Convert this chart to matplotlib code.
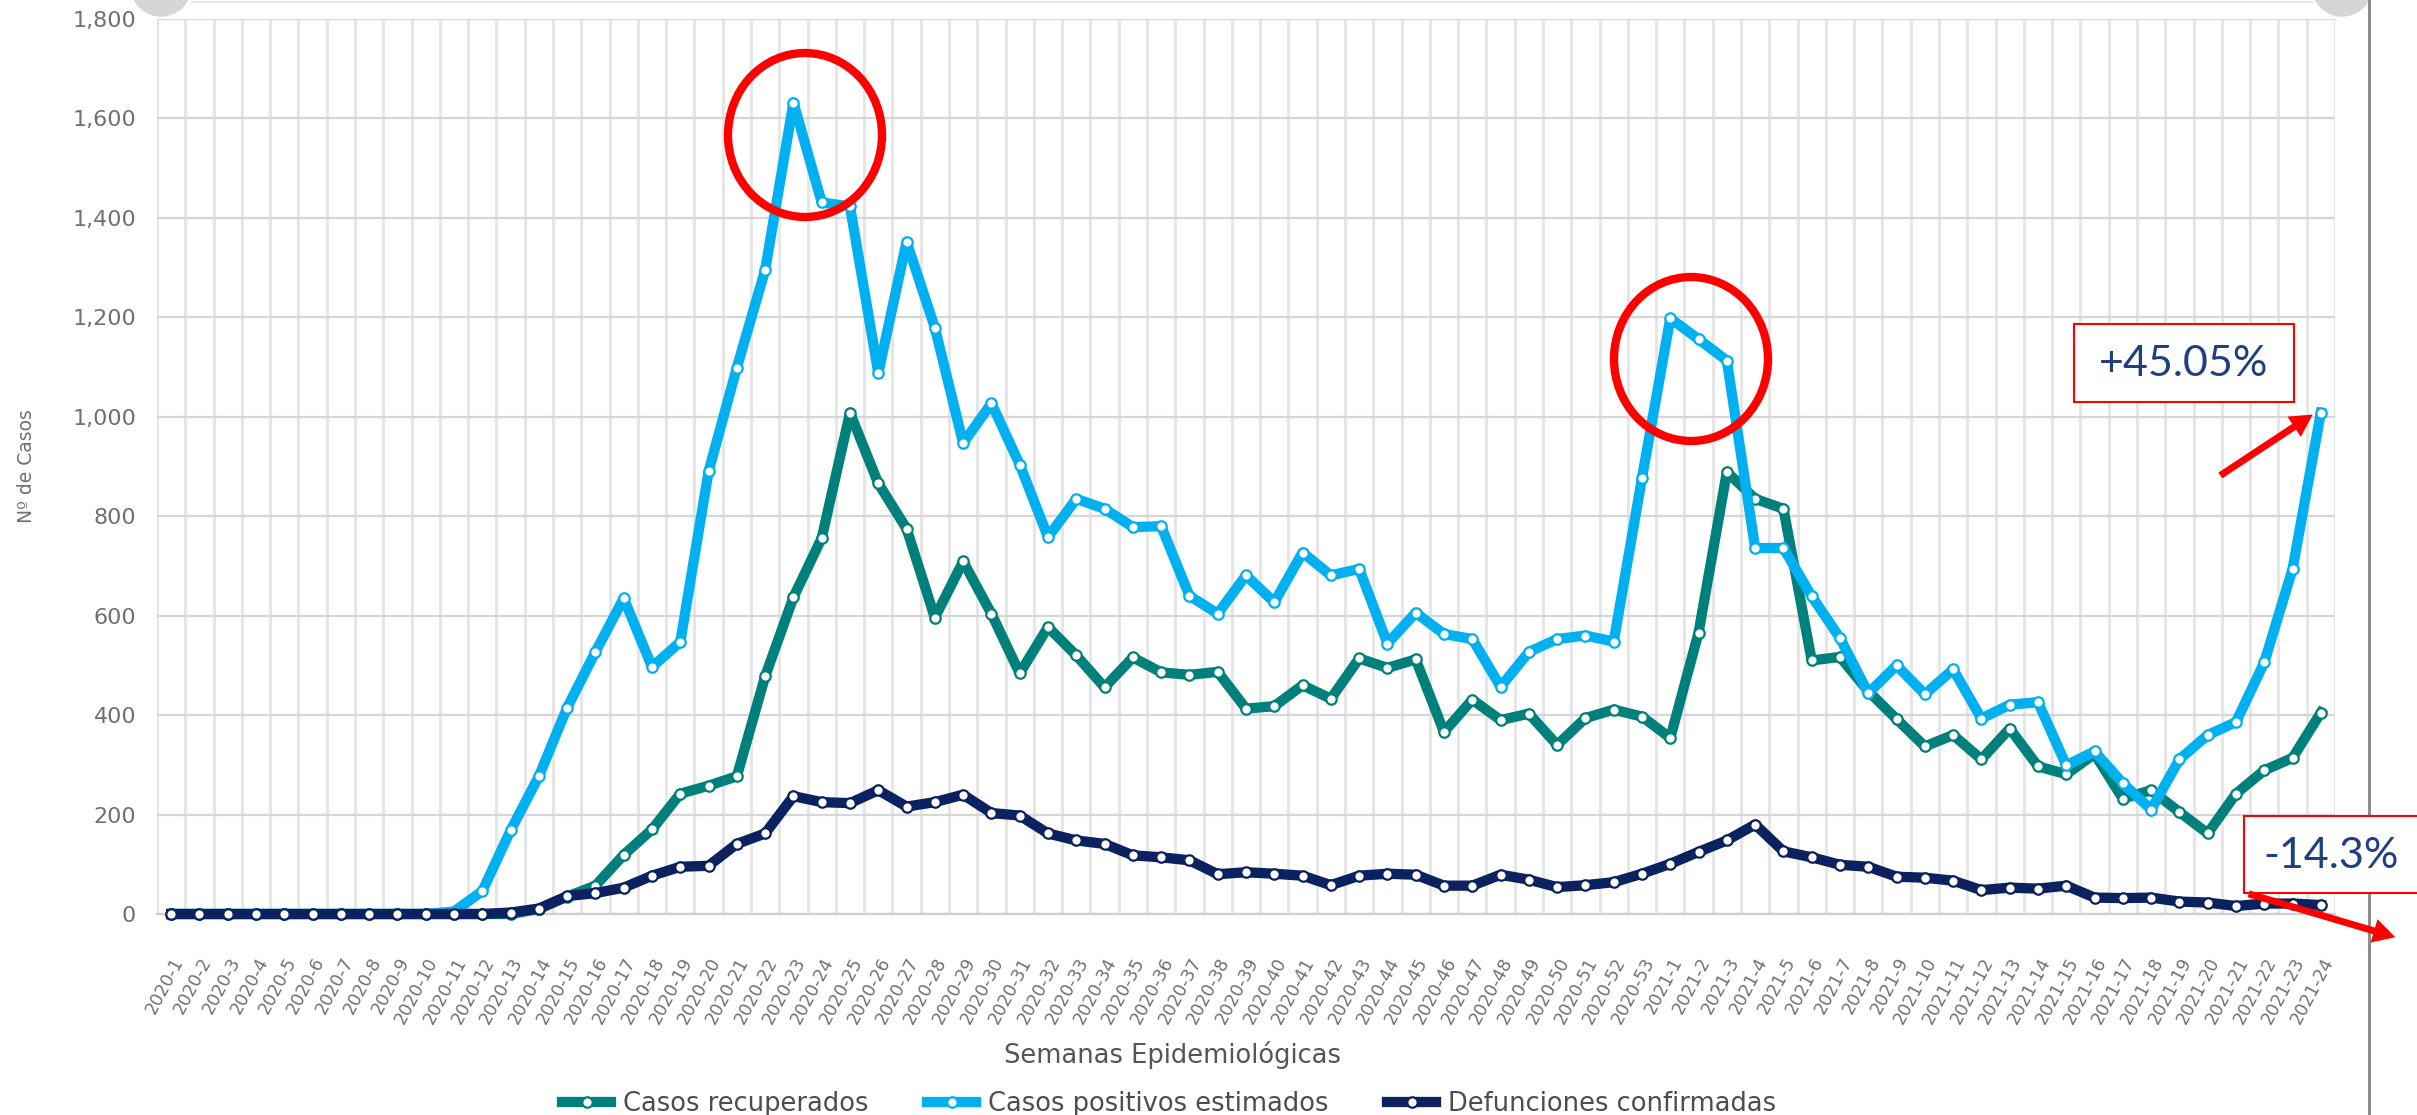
import numpy as np
import matplotlib
matplotlib.use("Agg")
import matplotlib.pyplot as plt
import matplotlib.transforms as mtransforms
from matplotlib.patches import Ellipse, Rectangle, FancyArrowPatch, Circle
from matplotlib.ticker import FuncFormatter, FixedLocator

# ---------------- data ----------------
weeks = [f"2020-{i}" for i in range(1, 54)] + [f"2021-{i}" for i in range(1, 25)]

positivos = [0, 0, 0, 0, 0, 0, 0, 0, 0, 0,
             5, 46, 168, 277, 415, 527, 635, 497, 547, 890,
             1099, 1295, 1632, 1431, 1423, 1088, 1352, 1179, 947, 1027,
             904, 758, 835, 815, 778, 780, 640, 604, 681, 627,
             727, 681, 694, 544, 606, 563, 553, 457, 527, 553,
             560, 548, 877, 1198, 1156, 1113, 736, 736, 639, 555,
             444, 500, 442, 492, 393, 421, 426, 299, 327, 263,
             210, 311, 360, 386, 506, 694, 1008]

recuperados = [0, 0, 0, 0, 0, 0, 0, 0, 0, 0,
               0, 0, 0, 10, 35, 57, 119, 170, 242, 258,
               277, 478, 637, 756, 1008, 866, 775, 596, 709, 604,
               484, 577, 520, 456, 516, 486, 481, 487, 413, 418,
               460, 433, 514, 495, 512, 366, 431, 390, 403, 340,
               394, 411, 397, 354, 566, 889, 835, 815, 510, 517,
               448, 392, 337, 360, 311, 373, 297, 281, 322, 232,
               249, 205, 162, 242, 289, 314, 405]

defunciones = [0, 0, 0, 0, 0, 0, 0, 0, 0, 0,
               0, 0, 3, 11, 36, 42, 53, 77, 95, 97,
               141, 162, 237, 225, 223, 249, 216, 225, 240, 203,
               198, 162, 148, 141, 118, 114, 108, 80, 84, 81,
               77, 58, 77, 81, 79, 57, 57, 79, 69, 54,
               58, 64, 81, 101, 125, 148, 180, 126, 114, 99,
               95, 75, 73, 67, 48, 53, 51, 57, 33, 32,
               33, 25, 23, 16, 21, 21, 18]

series_names = ["Casos recuperados", "Casos positivos estimados", "Defunciones confirmadas"]
y_ticks = list(range(0, 1801, 200))
ann_up = "+45.05%"
ann_down = "-14.3%"

# ---------------- styling ----------------
C_TEAL = "#00807A"
C_BLUE = "#00B0F0"
C_NAVY = "#0B2160"
C_GRAY_TXT = "#707070"
C_ANN = "#1F3F80"

W, H = 2417, 1115
plt.rcParams["font.family"] = ["DejaVu Sans"]
fig = plt.figure(figsize=(W / 100, H / 100), dpi=100)
fig.patch.set_facecolor("white")
# pixel coordinates, origin top-left
px = mtransforms.Affine2D().scale(1 / W, -1 / H).translate(0, 1) + fig.transFigure

ax = fig.add_axes([157 / W, 1 - 914 / H, (2335 - 157) / W, (914 - 19) / H])
x = np.arange(len(weeks))

common = dict(lw=7.4, marker="o", markersize=7.5, markerfacecolor="white",
              markeredgewidth=1.6, solid_joinstyle="round", clip_on=False)
l1, = ax.plot(x, recuperados, color=C_TEAL, markeredgecolor=C_TEAL, zorder=3, label=series_names[0], **common)
l2, = ax.plot(x, positivos, color=C_BLUE, markeredgecolor=C_BLUE, zorder=4, label=series_names[1], **common)
l3, = ax.plot(x, defunciones, color=C_NAVY, markeredgecolor=C_NAVY, zorder=5, label=series_names[2], **common)

ax.set_xlim(-0.5, len(weeks) - 0.5)
ax.set_ylim(0, 1800)
ax.set_yticks(y_ticks)
ax.yaxis.set_major_formatter(FuncFormatter(lambda v, p: f"{int(v):,}"))
ax.set_xticks(x)
ax.set_xticklabels(weeks, rotation=62, ha="right", va="top", rotation_mode="anchor",
                   fontsize=12.5, color=C_GRAY_TXT)
ax.xaxis.set_minor_locator(FixedLocator(np.arange(-0.5, len(weeks), 1.0)))
ax.tick_params(axis="x", which="both", length=0, pad=29)
ax.tick_params(axis="y", length=0, pad=15, labelsize=16, labelcolor=C_GRAY_TXT)
ax.grid(True, axis="y", which="major", color="#D6D6D6", lw=1.6, zorder=0)
ax.grid(True, axis="x", which="minor", color="#E6E6E6", lw=2.2, zorder=0)
ax.grid(False, axis="x", which="major")
ax.set_axisbelow(True)
for s in ["top", "right", "left"]:
    ax.spines[s].set_visible(False)
ax.spines["bottom"].set_color("#CFCFCF")
ax.spines["bottom"].set_linewidth(1.6)

ax.set_ylabel("Nº de Casos", fontsize=13.5, color=C_GRAY_TXT)
ax.yaxis.set_label_coords((36 - 157) / (2335 - 157), 0.5)
fig.text(1172 / W, 1 - 1055 / H, "Semanas Epidemiológicas", ha="center", va="center",
         fontsize=18.5, color="#555555")

leg = ax.legend(handles=[l1, l2, l3], loc="center", bbox_to_anchor=(1169 / W, 1 - 1104 / H),
                bbox_transform=fig.transFigure, ncol=3, frameon=False, fontsize=18.5,
                handlelength=1.9, handletextpad=0.45, columnspacing=2.3, numpoints=1)
for t in leg.get_texts():
    t.set_color("#4D4D4D")

# ---------------- decorations / annotations ----------------
fig.add_artist(Circle((161, -14), 30, transform=px, color="#D6D6D6", zorder=1))
fig.add_artist(Circle((2342, -14), 30, transform=px, color="#D6D6D6", zorder=1))
fig.add_artist(plt.Line2D([192, 2312], [1.5, 1.5], transform=px, color="#E4E4E4", lw=1.5))
fig.add_artist(plt.Line2D([2369, 2369], [0, H], transform=px, color="#8C8C8C", lw=2.2))

for cx, cy in [(805, 135), (1691, 359)]:
    fig.add_artist(Ellipse((cx, cy), 154, 164, transform=px, fill=False, ec="#FF0000", lw=6, zorder=10))

fig.add_artist(Rectangle((2074, 324), 220, 78, transform=px, fc="white", ec="#FF0000", lw=1.5, zorder=10))
fig.text(2184 / W, 1 - 364 / H, ann_up, ha="center", va="center", fontsize=31,
         family=["Lato", "DejaVu Sans"], color=C_ANN, zorder=11)
fig.add_artist(Rectangle((2244, 816), 200, 77, transform=px, fc="white", ec="#FF0000", lw=1.5, zorder=10))
fig.text(2331 / W, 1 - 856 / H, ann_down, ha="center", va="center", fontsize=31,
         family=["Lato", "DejaVu Sans"], color=C_ANN, zorder=11)

arrow_style = "simple,head_length=1.6,head_width=1.75,tail_width=0.5"
fig.add_artist(FancyArrowPatch((2218, 477), (2315, 413), transform=px, arrowstyle=arrow_style,
                               mutation_scale=10, color="#FF0000", lw=0, zorder=12))
fig.add_artist(FancyArrowPatch((2246, 893), (2398, 938), transform=px, arrowstyle=arrow_style,
                               mutation_scale=10, color="#FF0000", lw=0, zorder=12))

fig.savefig("out.png", dpi=100)
